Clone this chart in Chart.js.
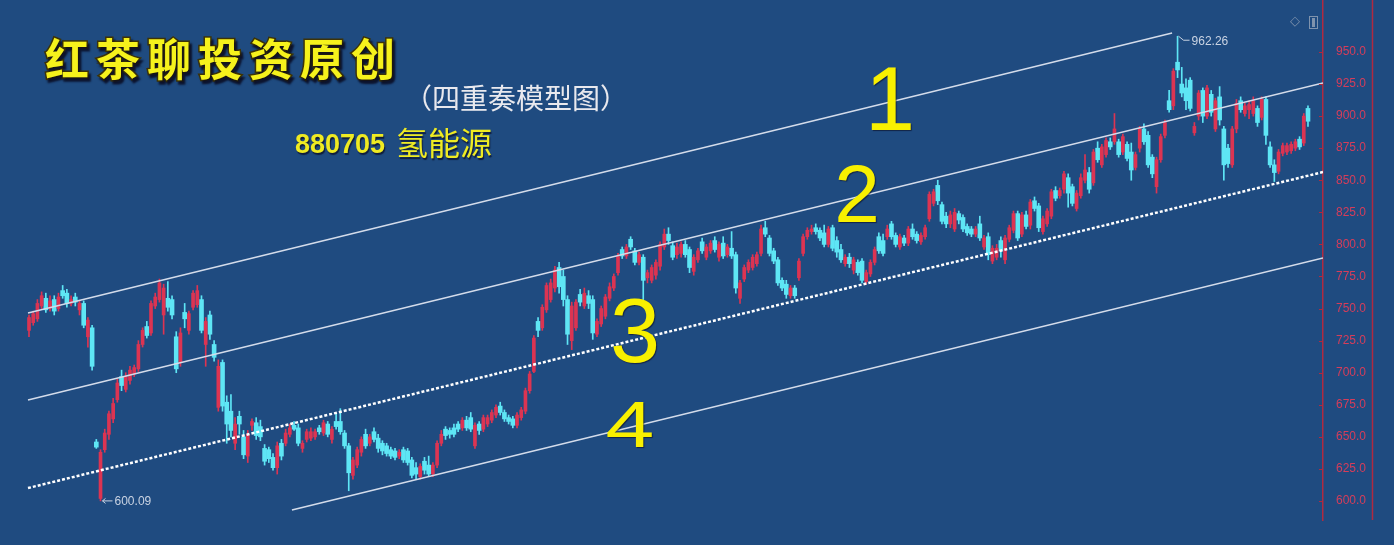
<!DOCTYPE html>
<html><head><meta charset="utf-8">
<script src="https://cdn.jsdelivr.net/npm/chart.js@4/dist/chart.umd.min.js"></script>
<style>html,body{margin:0;padding:0;background:#1f4b80;overflow:hidden}canvas{display:block}</style>
</head><body>
<canvas id="c" width="1394" height="545"></canvas>
<script>
// ---- data (daily candles, index 0..304) ----
const openP = [
733,739,742,752,758,750,757,750,764,762,754,759,749,754,728,735,646,602,640,652,
664,679,697,687,694,699,703,722,736,731,752,757,745,758,757,728,708,747,733,751,
753,757,722,745,722,673,708,677,670,645,666,650,635,659,661,658,641,640,634,626,
645,645,652,659,657,641,648,649,650,657,653,660,648,662,662,653,643,620,628,638,
652,645,654,649,645,643,640,639,635,640,639,632,626,619,631,628,621,628,645,656,
655,657,660,657,663,665,643,660,656,660,663,667,674,669,665,664,659,665,670,686,
701,740,735,749,757,766,782,775,757,725,735,761,752,760,757,730,738,744,758,766,
778,796,791,804,795,786,790,774,772,776,783,798,808,799,792,793,800,796,779,788,
802,790,795,803,790,801,792,797,792,758,773,780,782,785,793,813,805,795,788,772,
769,760,766,774,793,806,810,813,811,809,800,813,803,796,785,790,780,786,787,771,
777,786,806,803,806,816,807,798,805,801,812,808,802,806,820,832,846,831,822,816,
812,824,821,814,812,808,816,798,806,787,790,803,788,804,811,824,808,823,815,834,
830,810,816,822,842,838,843,852,845,828,838,850,856,848,875,862,870,880,880,880,
872,878,872,860,875,890,885,868,845,866,885,912,908,942,925,922,928,887,900,920,
900,917,890,915,890,875,862,890,912,902,905,902,906,899,913,876,862,857,871,872,
873,875,882,879,906];
const highP = [
745,748,757,763,762,760,760,762,768,765,760,762,756,756,743,737,648,640,656,670,
680,695,702,700,705,706,725,735,740,756,762,773,769,771,760,732,735,754,748,764,
768,760,743,748,725,710,710,682,683,665,670,655,655,664,665,663,644,642,637,646,
648,656,660,662,660,647,656,657,656,659,663,662,658,668,672,655,645,634,642,650,
656,652,657,652,647,645,642,641,640,642,641,634,630,629,634,635,630,647,655,658,
657,660,662,665,666,669,661,662,667,667,671,675,677,671,667,666,669,673,688,701,
729,743,753,770,773,783,786,780,760,755,757,765,766,764,760,742,752,761,770,777,
793,798,800,806,797,794,792,780,784,788,802,812,813,802,801,802,803,798,792,797,
805,800,803,806,802,806,800,810,794,772,784,788,792,794,815,818,807,797,790,774,
772,768,768,789,808,813,815,816,813,815,814,815,806,800,792,793,790,788,789,780,
788,798,809,808,815,818,809,808,807,814,816,810,809,815,841,843,850,833,825,826,
828,826,823,816,814,814,822,807,809,799,800,806,807,815,826,826,825,826,835,837,
832,822,828,843,845,844,857,855,847,842,855,870,860,874,880,878,883,883,902,882,
886,880,879,872,892,894,888,870,868,886,897,920,937,962.26,938,929,930,895,920,922,
924,920,914,923,892,878,892,913,915,910,912,915,908,915,915,880,866,874,879,879,
880,882,884,902,908];
const lowP = [
728,737,740,750,747,748,745,748,758,751,752,752,745,735,720,702,641,600.09,638,648,
661,677,686,685,691,697,701,720,727,729,750,755,730,748,742,700,705,735,730,749,
751,731,705,726,709,670,670,645,650,640,652,633,630,655,648,647,628,630,624,621,
632,643,650,655,643,638,646,647,648,652,651,650,645,656,652,641,608,617,626,635,
641,643,646,638,636,635,633,632,633,630,628,618,617,617,621,619,619,626,643,648,
649,650,654,655,655,654,641,652,654,658,661,665,667,662,660,657,657,663,668,684,
700,728,733,747,755,763,762,752,722,718,733,752,750,750,726,728,736,742,756,764,
776,789,789,796,784,784,757,770,770,773,780,796,800,788,789,790,790,778,776,786,
793,788,793,794,787,789,790,789,762,754,771,778,780,783,791,806,791,785,768,764,
758,758,758,772,791,804,808,808,803,798,798,795,790,786,783,782,777,776,770,769,
775,784,793,791,804,804,798,796,799,799,804,801,800,804,818,830,831,816,813,813,
810,816,810,807,806,806,803,796,788,785,788,790,785,802,809,803,806,812,812,826,
810,808,814,820,834,836,840,829,830,826,836,848,840,846,864,860,868,874,878,868,
870,865,850,858,872,878,860,852,840,864,883,903,905,930,915,905,904,885,897,895,
898,900,888,893,850,860,860,887,903,900,898,900,892,897,878,860,849,855,869,870,
871,873,874,877,892];
const closeP = [
743,746,754,760,749,756,748,759,760,754,757,755,754,737,741,705,642,638,653,668,
676,692,690,697,702,704,722,733,729,754,759,770,766,751,745,703,731,742,746,762,
764,733,740,730,712,705,674,660,655,660,660,636,652,662,651,650,631,633,626,643,
635,653,657,656,645,645,654,654,654,654,661,652,656,658,654,643,622,632,640,648,
643,650,648,641,639,637,635,634,638,632,630,620,621,627,624,621,628,645,652,651,
652,652,656,663,657,656,659,655,665,665,669,673,669,664,662,659,667,671,686,699,
727,733,751,768,770,780,767,757,730,752,755,755,762,754,731,740,750,759,767,775,
791,791,798,798,786,792,772,778,782,786,800,808,803,790,798,800,792,782,790,795,
795,798,801,796,800,791,798,791,766,770,782,786,790,792,812,808,793,787,770,766,
761,766,760,787,806,811,812,810,805,800,812,797,794,788,790,785,788,778,772,778,
786,796,795,793,812,806,800,806,801,812,806,803,807,813,839,841,834,818,816,823,
825,819,812,809,808,812,805,805,792,797,797,795,805,813,824,805,823,814,833,828,
813,820,826,841,836,842,855,840,832,840,852,858,843,872,866,876,881,876,890,870,
884,867,858,870,890,880,862,855,866,884,895,905,935,936,918,912,906,892,918,900,
922,903,912,897,862,863,890,910,905,908,909,912,895,913,885,862,856,872,877,877,
878,880,876,900,896];

// y-axis tick labels
const yTicks = [600,625,650,675,700,725,750,775,800,825,850,875,900,925,950];

// four parallel channel lines: [candle index, price] end points
const line1 = [[-0.24, 746.5], [271.7, 964.8]];
const line2 = [[-0.24, 678.7], [307.57, 925.8]];
const line3 = [[-0.24, 610.1], [307.57, 856.4]];
const line4 = [[62.5, 593.0], [307.57, 789.4]];

// ---- styles ----
const BG = '#1f4b80';
const RED = '#dc3452';
const CYAN = '#5ee6f5';
const AXIS_RED = '#b02a40';

const idx = openP.map((_, i) => i);
const isUp = idx.map(i => closeP[i] >= openP[i]);
const candleColor = isUp.map(u => u ? RED : CYAN);
const toPts = l => l.map(p => ({x: p[0], y: p[1]}));
const upIdx = idx.filter(i => isUp[i]);
const downIdx = idx.filter(i => !isUp[i]);

const decor = {
  id: 'decor',
  beforeDraw(chart) {
    const c = chart.ctx;
    c.save(); c.fillStyle = BG; c.fillRect(0, 0, chart.width, chart.height); c.restore();
  },
  afterDraw(chart) {
    const c = chart.ctx, xs = chart.scales.x, ys = chart.scales.y, ca = chart.chartArea;
    c.save();
    // outer right border of the price axis
    c.strokeStyle = AXIS_RED; c.lineWidth = 1.5;
    c.beginPath(); c.moveTo(ys.right - 0.5, 0); c.lineTo(ys.right - 0.5, ca.bottom); c.stroke();
    // small tick marks inside the axis line
    c.lineWidth = 1;
    yTicks.forEach(v => {
      const y = Math.round(ys.getPixelForValue(v)) + 0.5;
      c.beginPath(); c.moveTo(ys.left - 4, y); c.lineTo(ys.left, y); c.stroke();
    });

    // extreme price labels
    c.font = '12px "Liberation Sans", Arial, sans-serif';
    c.fillStyle = '#c9d3e2'; c.strokeStyle = '#c9d3e2'; c.lineWidth = 1;
    c.textBaseline = 'middle'; c.textAlign = 'left';
    const lo = Math.min(...lowP), iLo = lowP.indexOf(lo);
    let px = xs.getPixelForValue(iLo), py = ys.getPixelForValue(lo);
    c.beginPath(); c.moveTo(px + 2, py); c.lineTo(px + 12, py);
    c.moveTo(px + 2, py); c.lineTo(px + 5, py - 2.5); c.moveTo(px + 2, py); c.lineTo(px + 5, py + 2.5); c.stroke();
    c.fillText(lo.toFixed(2), px + 14, py + 1);
    const hi = Math.max(...highP), iHi = highP.indexOf(hi);
    px = xs.getPixelForValue(iHi); py = ys.getPixelForValue(hi);
    c.beginPath(); c.moveTo(px + 1, py); c.lineTo(px + 6, py + 4); c.lineTo(px + 12, py + 4); c.stroke();
    c.fillText(hi.toFixed(2), px + 14, py + 5);

    // top-right small icons
    c.fillStyle = '#7f93ad'; c.font = '13px "DejaVu Sans"';
    c.fillText('◇', 1290, 22);
    c.strokeStyle = '#7f93ad'; c.strokeRect(1309.5, 16.5, 8, 12);
    c.fillRect(1312, 18, 3, 9);

    // title
    c.textBaseline = 'middle';
    c.shadowColor = 'rgba(10,10,30,0.75)'; c.shadowOffsetX = 2; c.shadowOffsetY = 3; c.shadowBlur = 2;
    c.font = 'bold 44px "Noto Sans CJK SC"';
    const title = '红茶聊投资原创';
    for (let k = 0; k < title.length; k++) {
      const tx = 45 + k * 51;
      c.lineWidth = 3; c.strokeStyle = '#3d3306';
      c.strokeText(title[k], tx, 59);
      c.fillStyle = '#f6f21c';
      c.fillText(title[k], tx, 59);
    }
    c.shadowColor = 'transparent';
    // subtitle
    c.font = '28px "Noto Sans CJK SC"';
    c.fillStyle = '#e9e9ee';
    c.fillText('（四重奏模型图）', 404, 98);
    // code + sector name
    c.shadowColor = 'rgba(10,10,30,0.7)'; c.shadowOffsetX = 1; c.shadowOffsetY = 2; c.shadowBlur = 1;
    c.fillStyle = '#efeb22';
    c.textBaseline = 'alphabetic';
    c.font = 'bold 27px "Liberation Sans", Arial, sans-serif';
    c.fillText('880705', 295, 153);
    c.font = '32px "Noto Sans CJK SC"';
    c.textBaseline = 'middle';
    c.fillText('氢能源', 396, 143);

    // hand-written channel numbers
    c.shadowColor = 'rgba(10,10,30,0.6)'; c.shadowOffsetX = 1; c.shadowOffsetY = 1; c.shadowBlur = 1;
    c.textBaseline = 'alphabetic'; c.textAlign = 'center';
    c.fillStyle = '#f8f000';
    const nums = [['1', 890, 130, 90], ['2', 857, 222, 82], ['3', 635, 362, 90], ['4', 630, 447, 65]];
    nums.forEach(([t, x, y, s]) => {
      c.save();
      c.translate(x, y);
      if (t === '4') c.scale(1.35, 1);
      c.font = s + 'px "Liberation Sans", Arial, sans-serif';
      c.fillText(t, 0, 0);
      c.restore();
    });
    c.restore();
  }
};

new Chart(document.getElementById('c'), {
  type: 'bar',
  data: {
    datasets: [
      { type: 'line', data: toPts(line1), borderColor: '#d4dcea', borderWidth: 1.5, pointRadius: 0, order: 0 },
      { type: 'line', data: toPts(line2), borderColor: '#d4dcea', borderWidth: 1.5, pointRadius: 0, order: 0 },
      { type: 'line', data: toPts(line3), borderColor: '#ffffff', borderWidth: 2.5, borderDash: [3, 2], pointRadius: 0, order: 0 },
      { type: 'line', data: toPts(line4), borderColor: '#d4dcea', borderWidth: 1.5, pointRadius: 0, order: 0 },
      { type: 'bar', data: upIdx.map(i => ({x: i, y: [openP[i], closeP[i]]})),
        backgroundColor: RED, borderWidth: 0,
        barThickness: 3, minBarLength: 1.5, grouped: false, order: 1 },
      { type: 'bar', data: downIdx.map(i => ({x: i, y: [openP[i], closeP[i]]})),
        backgroundColor: CYAN, borderWidth: 0,
        barThickness: 4, minBarLength: 1.5, grouped: false, order: 1 },
      { type: 'bar', data: idx.map(i => ({x: i, y: [lowP[i], highP[i]]})),
        backgroundColor: candleColor, borderWidth: 0, barThickness: 1, grouped: false, order: 2 }
    ]
  },
  options: {
    responsive: false,
    animation: false,
    devicePixelRatio: 1,
    layout: { padding: { left: 0, top: 0, right: 21, bottom: 25 } },
    plugins: { legend: { display: false }, tooltip: { enabled: false } },
    scales: {
      x: { type: 'linear', min: -6.893, max: 307.57, offset: false, display: false },
      y: {
        position: 'right', min: 585.2, max: 990.5,
        afterBuildTicks: s => { s.ticks = yTicks.map(v => ({ value: v })); },
        afterFit: s => { s.width = 50; s.paddingTop = 0; s.paddingBottom = 0; },
        ticks: { color: '#d63d5a', padding: 13, font: { family: '"Liberation Sans", Arial, sans-serif', size: 12 },
                 callback: v => Number(v).toFixed(1) },
        grid: { display: false, drawTicks: false },
        border: { color: AXIS_RED, width: 1.5 }
      }
    }
  },
  plugins: [decor]
});
</script>
</body></html>
